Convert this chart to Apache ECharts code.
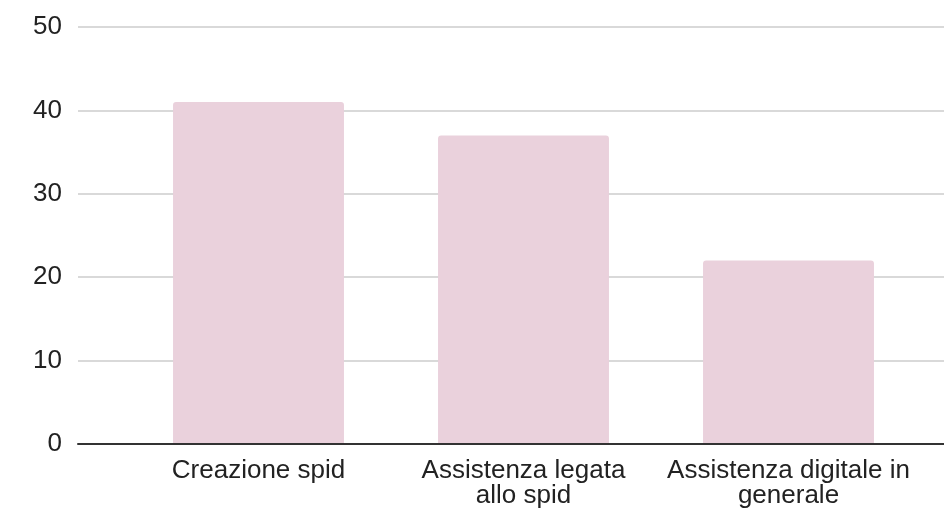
<!DOCTYPE html>
<html>
<head>
<meta charset="utf-8">
<script src="https://cdn.jsdelivr.net/npm/echarts@6/dist/echarts.min.js"></script>
<style>
  html, body { margin: 0; padding: 0; background: #fff; }
  #chart { width: 944px; height: 509px; }
</style>
</head>
<body>
<div id="chart"></div>
<script>
const categories = ['Creazione spid', 'Assistenza legata\nallo spid', 'Assistenza digitale in\ngenerale']
const values = [41, 37, 22]
const yTicks = [0, 10, 20, 30, 40, 50]

const font = 'Liberation Sans, Arial, sans-serif'
const chart = echarts.init(document.querySelector('#chart'))

const option = {
  animation: false,
  grid: [
    // full-width grid: gridlines + baseline
    { left: 78, right: 0, top: 27, bottom: 65 },
    // bars
    { left: 126, right: 23, top: 27, bottom: 65 }
  ],
  xAxis: [
    {
      gridIndex: 0,
      type: 'value',
      min: 0,
      max: 1,
      z: 5,
      axisLine: { show: true, onZero: false, lineStyle: { color: '#333', width: 2 } },
      axisTick: { show: false },
      axisLabel: { show: false },
      splitLine: { show: false }
    },
    {
      gridIndex: 1,
      type: 'category',
      data: categories,
      axisLine: { show: false },
      axisTick: { show: false },
      axisLabel: {
        color: '#222',
        fontFamily: font,
        fontSize: 26,
        lineHeight: 25,
        margin: 14,
        interval: 0
      }
    }
  ],
  yAxis: [
    {
      gridIndex: 0,
      type: 'value',
      min: yTicks[0],
      max: yTicks[yTicks.length - 1],
      interval: 10,
      axisLine: { show: false },
      axisTick: { show: false },
      axisLabel: {
        color: '#222',
        fontFamily: font,
        fontSize: 26,
        margin: 16
      },
      splitLine: { lineStyle: { color: '#cccccc', width: 1.5 } }
    },
    {
      gridIndex: 1,
      type: 'value',
      min: yTicks[0],
      max: yTicks[yTicks.length - 1],
      interval: 10,
      show: false
    }
  ],
  series: [
    {
      type: 'bar',
      xAxisIndex: 1,
      yAxisIndex: 1,
      data: values,
      barWidth: '64.5%',
      itemStyle: { color: '#ead1dc', borderRadius: [3, 3, 0, 0] }
    }
  ]
}

chart.setOption(option)
window.onresize = () => { chart.resize() }
</script>
</body>
</html>
